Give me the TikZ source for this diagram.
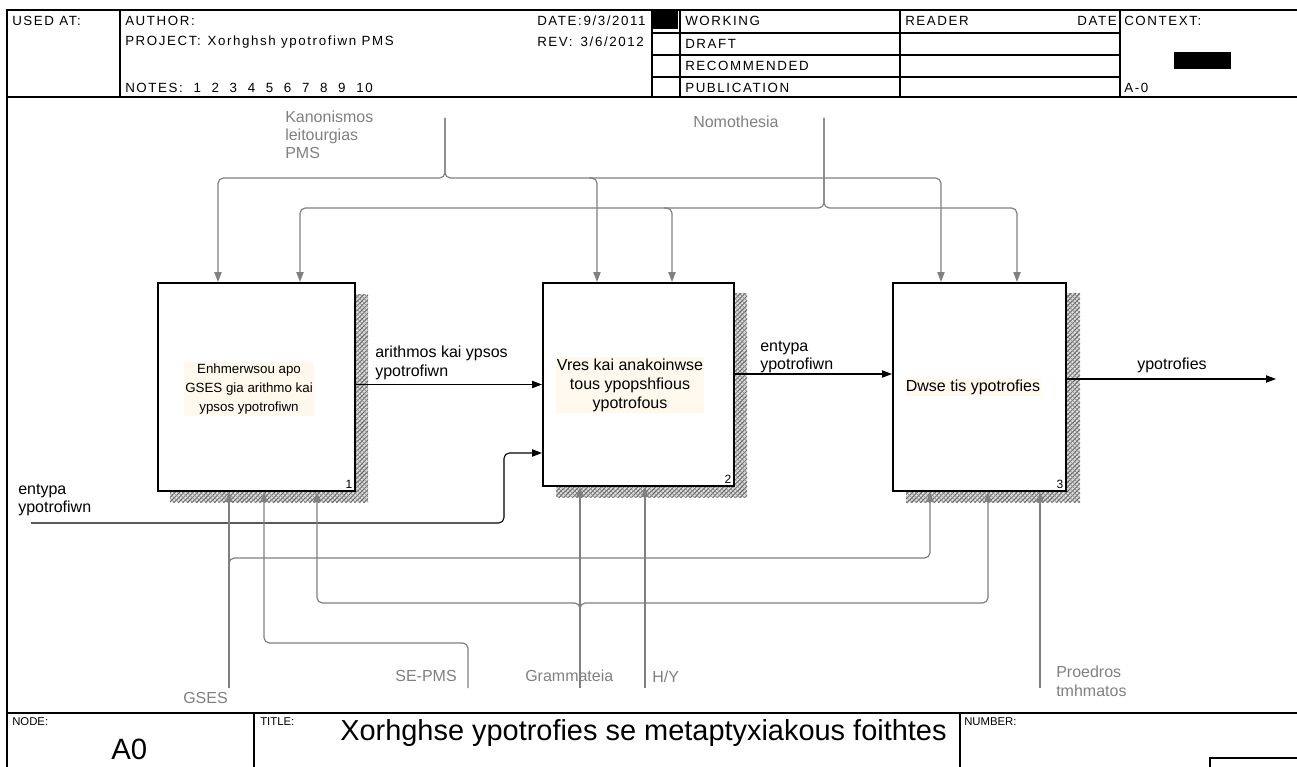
\documentclass[tikz,border=0pt]{standalone}
\usepackage{fontspec}
\setmainfont{Liberation Sans}
\newfontfamily\hdrfont[LetterSpace=12]{Liberation Sans}
\usetikzlibrary{arrows.meta,patterns.meta}
\definecolor{ctrlgray}{RGB}{128,128,128}
\definecolor{cream}{RGB}{255,248,236}
\tikzset{>={Triangle[length=7.5pt,width=5.5pt]}}
\tikzset{
  sheet/.style={line width=0.9pt},
  hdr/.style={font=\hdrfont\fontsize{10}{11}\selectfont, anchor=west, inner sep=0pt},
  small/.style={font=\fontsize{8.5}{9}\selectfont, anchor=west, inner sep=0pt},
  boxshadow/.style={fill=black!12, postaction={pattern={Lines[angle=45,distance=2.4pt,line width=0.7pt]}, pattern color=black!62}, postaction={pattern={Lines[angle=-45,distance=2.4pt,line width=0.5pt]}, pattern color=black!45}},
  fbox/.style={draw, line width=1.5pt, fill=white, inner sep=0pt},
  fntext/.style={fill=cream, inner sep=1pt, align=center},
  boxno/.style={font=\fontsize{9}{10}\selectfont, anchor=south east, inner sep=2.5pt},
  flow/.style={->, line width=0.8pt},
  ctrl/.style={->, draw=ctrlgray, line width=0.9pt, rounded corners=4pt},
  lbl/.style={font=\fontsize{12}{14}\selectfont, inner sep=0pt, align=left},
  glbl/.style={lbl, text=ctrlgray},
}

\begin{document}
\begin{tikzpicture}[x=0.75pt, y=-0.75pt]
    \useasboundingbox (0,0) rectangle (1297,767);

    % sheet frame and header
    \draw[sheet] (7,767) -- (7,10) -- (1297,10);
    \draw[sheet] (7,97) -- (1297,97);
    \draw[sheet] (7,713) -- (1297,713);
    \foreach \x in {120,652,680,900,1120} \draw[sheet] (\x,10) -- (\x,97);
    \foreach \y in {33,55,77} \draw[sheet] (652,\y) -- (1120,\y);
    \fill (653,11) rectangle (678,29);
    \fill (1174,52) rectangle (1231,69);

    \node[hdr] (usedat) at (12,21) {USED AT:};
    \node[hdr] (author) at (125,21) {AUTHOR:};
    \node[hdr] (project) at (125,42) {PROJECT:\hspace{5pt}Xorhghsh ypotrofiwn PMS};
    \node[hdr] (notes) at (125,88) {NOTES:\hspace{8pt}1\hspace{8pt}2\hspace{8pt}3\hspace{8pt}4\hspace{8pt}5\hspace{8pt}6\hspace{8pt}7\hspace{8pt}8\hspace{8pt}9\hspace{8pt}10};
    \node[hdr] (date) at (537,21) {DATE:9/3/2011};
    \node[hdr] (rev) at (537,42) {REV:\hspace{6pt}3/6/2012};
    \node[hdr] (working) at (685,21) {WORKING};
    \node[hdr] (draft) at (685,44) {DRAFT};
    \node[hdr] (recom) at (685,66) {RECOMMENDED};
    \node[hdr] (publ) at (685,88) {PUBLICATION};
    \node[hdr] (reader) at (905,21) {READER};
    \node[hdr, anchor=east] (rdate) at (1117,21) {DATE};
    \node[hdr] (context) at (1124,21) {CONTEXT:};
    \node[hdr] (ctxnode) at (1124,88) {A-0};

    % footer
    \draw[sheet] (254,713) -- (254,767);
    \draw[sheet] (960,713) -- (960,767);
    \draw[sheet] (1210,767) -- (1210,758) -- (1297,758);
    \node[small] (nodelbl) at (12,722) {NODE:};
    \node[small] (titlelbl) at (260,722) {TITLE:};
    \node[small] (numlbl) at (964,722) {NUMBER:};
    \node[anchor=west, inner sep=0pt, font=\fontsize{22}{24}\selectfont] (nodeno) at (111,749) {A0};
    \node[anchor=west, inner sep=0pt, font=\fontsize{21.7}{24}\selectfont] (title) at (340,733) {Xorhghse ypotrofies se metaptyxiakous foithtes};

    % activity boxes
    \fill[boxshadow] (170,294) rectangle (368,502);
    \fill[boxshadow] (556,293) rectangle (747,497);
    \fill[boxshadow] (906,293) rectangle (1080,502);
    \node[fbox, minimum width=147.75pt, minimum height=156pt] (b1) at (256.5,387) {};
    \node[fbox, minimum width=143.25pt, minimum height=152.25pt] (b2) at (638.5,384.5) {};
    \node[fbox, minimum width=129.75pt, minimum height=156pt] (b3) at (979.5,387) {};
    \node[fntext, font=\fontsize{10}{14.25}\selectfont] (t1) at (249,389) {Enhmerwsou apo\\GSES gia arithmo kai\\ypsos ypotrofiwn};
    \node[fntext, font=\fontsize{12}{14.25}\selectfont] (t2) at (630,385) {Vres kai anakoinwse\\tous ypopshfious\\ypotrofous};
    \node[fntext, font=\fontsize{12}{14.25}\selectfont] (t3) at (973,387) {Dwse tis ypotrofies};
    \node[boxno] at (b1.south east) {1};
    \node[boxno] at (b2.south east) {2};
    \node[boxno] at (b3.south east) {3};

    % inputs and outputs
    \coordinate (inend) at (31,523);
    \coordinate (incorner) at (504,453);
    \coordinate (e23) at (0,374);
    \coordinate (outend) at (1276,379);
    \draw[flow] (b1.east |- b2.west) -- (b2.west);
    \draw[flow] (b2.east |- e23) -- (b3.west |- e23);
    \draw[flow] (b3.east |- outend) -- (outend);
    \draw[flow, rounded corners=4pt] (inend) -| (incorner) -- (b2.west |- incorner);
    \node[lbl, anchor=west] (l12) at (375,363) {arithmos kai ypsos\\ypotrofiwn};
    \node[lbl, anchor=west] (l23) at (760,357) {entypa\\ypotrofiwn};
    \node[lbl] (l3) at (1172,365) {ypotrofies};
    \node[lbl, anchor=west] (lin) at (18,500) {entypa\\ypotrofiwn};

    % controls
    \coordinate (kan) at (445,118);
    \coordinate (kL) at (218,178);
    \coordinate (kM) at (597,178);
    \coordinate (kR) at (941,178);
    \draw[ctrl] (kan) |- (kL) -- (b1.north -| kL);
    \draw[ctrl] (kan) |- (kR) -- (b3.north -| kR);
    \draw[ctrl] ([xshift=-6pt]kM) -- (kM) -- (b2.north -| kM);
    \node[glbl, anchor=west, font=\fontsize{12}{13.5}\selectfont] (kanl) at (285,135) {Kanonismos\\leitourgias\\PMS};

    \coordinate (nom) at (824,118);
    \coordinate (nL) at (300,208);
    \coordinate (nM) at (672,208);
    \coordinate (nR) at (1017,208);
    \draw[ctrl] (nom) |- (nL) -- (b1.north -| nL);
    \draw[ctrl] (nom) |- (nR) -- (b3.north -| nR);
    \draw[ctrl] ([xshift=-6pt]nM) -- (nM) -- (b2.north -| nM);
    \node[glbl, anchor=west] (noml) at (693,122) {Nomothesia};

    % mechanisms
    \coordinate (gses) at (229,688);
    \coordinate (gA) at (229,570);
    \coordinate (gB) at (930,558);
    \draw[ctrl] (gses) -- (b1.south -| gses);
    \draw[ctrl] (gA) |- (gB) -- (b3.south -| gB);
    \node[glbl, anchor=east] (gsesl) at (228,698) {GSES};

    \coordinate (sepms) at (468,688);
    \coordinate (sA) at (468,643);
    \coordinate (sB) at (264,643);
    \draw[ctrl] (sepms) -- (sA) -- (sB) -- (b1.south -| sB);
    \node[glbl, anchor=east] (sepmsl) at (457,676) {SE-PMS};

    \coordinate (gram) at (580,688);
    \coordinate (grA) at (580,615);
    \coordinate (grL) at (317,603);
    \coordinate (grR) at (988,603);
    \draw[ctrl] (gram) -- (b2.south -| gram);
    \draw[ctrl] (grA) |- (grL) -- (b1.south -| grL);
    \draw[ctrl] (grA) |- (grR) -- (b3.south -| grR);
    \node[glbl, anchor=west] (graml) at (525,676) {Grammateia};

    \coordinate (hy) at (645,688);
    \draw[ctrl] (hy) -- (b2.south -| hy);
    \node[glbl, anchor=west] (hyl) at (652,677) {H/Y};

    \coordinate (proe) at (1040,688);
    \draw[ctrl] (proe) -- (b3.south -| proe);
    \node[glbl, anchor=west, font=\fontsize{12}{14.25}\selectfont] (proel) at (1056,681) {Proedros\\tmhmatos};
\end{tikzpicture}
\end{document}
